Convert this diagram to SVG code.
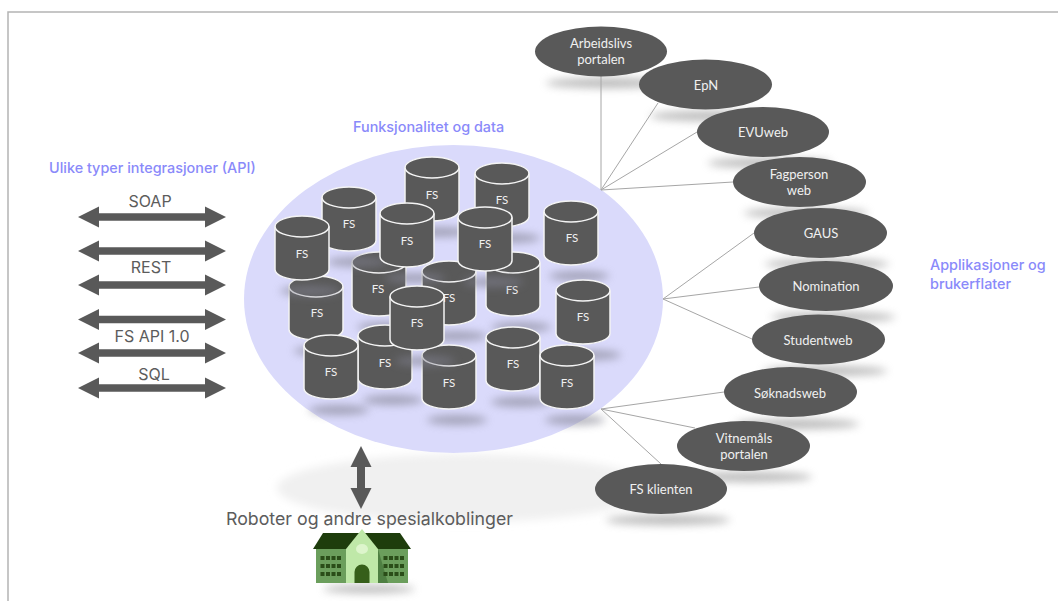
<svg xmlns="http://www.w3.org/2000/svg" xmlns:xlink="http://www.w3.org/1999/xlink" width="1058" height="601" viewBox="0 0 1058 601">
<style>
.body{fill:#595959;stroke:#f4f4f4;stroke-width:1.5}
.lid{fill:none;stroke:#f4f4f4;stroke-width:1.5}
.fs{font:11.5px Lato,"Open Sans",sans-serif;fill:#f0f0f0;text-anchor:middle}
.app{fill:#595959}
.lab{font:13px Lato,"Open Sans",sans-serif;fill:#f0f0f0;text-anchor:middle}
.sh{fill:#8f8f8f;opacity:.62;filter:url(#b)}
.cs{fill:#80808f;opacity:.62;filter:url(#b)}
.api{font:16px Inter,"Liberation Sans",sans-serif;fill:#5c5c5c;text-anchor:middle}
.pur{font:500 14.400px Inter,"Liberation Sans",sans-serif;fill:#8a8afa}
.ln{stroke:#a6a6a6;stroke-width:1;fill:none}
.w{fill:#2a4d18}
</style>
<defs>
<filter id="b" x="-30%" y="-200%" width="160%" height="500%"><feGaussianBlur stdDeviation="4"/></filter>
<filter id="b2" x="-20%" y="-30%" width="140%" height="160%"><feGaussianBlur stdDeviation="4"/></filter>
<path id="h" fill="#595959" d="M0,0 L21,-10.500 V-3.800 H127 V-10.500 L148,0 L127,10.500 V3.800 H21 V10.500 Z"/>
<g id="cyl">
<ellipse class="cs" cx="35" cy="75" rx="30" ry="5"/>
<path class="body" d="M0,10.500 V53.500 A27,10.500 0 0 0 54,53.500 V10.500 A27,10.500 0 0 0 0,10.500 Z"/>
<path class="lid" d="M0,10.500 A27,10.500 0 0 0 54,10.500"/>
</g>
</defs>
<rect width="1058" height="601" fill="#fff"/>
<path d="M8,601 V12 H1058" fill="none" stroke="#b4b4b4" stroke-width="1.5"/>
<ellipse cx="465" cy="488" rx="188" ry="34" fill="#f0f0f0" filter="url(#b2)"/>
<ellipse id="core" cx="453.500" cy="299" rx="209.500" ry="154" fill="#dadafb"/>
<g id="cylinders">
<g id="fs1" transform="translate(405,157)"><use href="#cyl"/><text class="fs" x="27" y="42">FS</text></g>
<g id="fs2" transform="translate(475,163)"><use href="#cyl"/><text class="fs" x="27" y="41">FS</text></g>
<g id="fs6" transform="translate(544,201)"><use href="#cyl"/><text class="fs" x="28" y="41">FS</text></g>
<g id="fs8" transform="translate(352,252)"><use href="#cyl"/><text class="fs" x="26" y="41">FS</text></g>
<g id="fs9" transform="translate(422,261)"><use href="#cyl"/><text class="fs" x="27" y="41">FS</text></g>
<g id="fs10" transform="translate(486,252)"><use href="#cyl"/><text class="fs" x="26" y="42">FS</text></g>
<g id="fs12" transform="translate(556,280)"><use href="#cyl"/><text class="fs" x="27" y="41">FS</text></g>
<g id="fs11" transform="translate(289,276)"><use href="#cyl"/><text class="fs" x="28" y="41">FS</text></g>
<g id="fs3" transform="translate(322,187)"><use href="#cyl"/><text class="fs" x="27" y="41">FS</text></g>
<g id="fs7" transform="translate(275,216)"><use href="#cyl"/><text class="fs" x="27" y="42">FS</text></g>
<g id="fs4" transform="translate(380,203)"><use href="#cyl"/><text class="fs" x="27" y="42">FS</text></g>
<g id="fs5" transform="translate(458,207)"><use href="#cyl"/><text class="fs" x="27" y="41">FS</text></g>
<g id="fs17" transform="translate(486,327)"><use href="#cyl"/><text class="fs" x="27" y="41">FS</text></g>
<g id="fs14" transform="translate(358,325)"><use href="#cyl"/><text class="fs" x="27" y="42">FS</text></g>
<g id="fs16" transform="translate(422,345)"><use href="#cyl"/><text class="fs" x="27" y="42">FS</text></g>
<g id="fs18" transform="translate(540,345)"><use href="#cyl"/><text class="fs" x="27" y="42">FS</text></g>
<g id="fs15" transform="translate(304,335)"><use href="#cyl"/><text class="fs" x="27" y="41">FS</text></g>
<g id="fs13" transform="translate(390,286)"><use href="#cyl"/><text class="fs" x="27" y="41">FS</text></g>
</g>
<g id="app-shadows">
<ellipse class="sh" cx="608" cy="83" rx="62" ry="5"/>
<ellipse class="sh" cx="712" cy="116" rx="62" ry="5"/>
<ellipse class="sh" cx="770" cy="163" rx="62" ry="5"/>
<ellipse class="sh" cx="806" cy="213" rx="62" ry="5"/>
<ellipse class="sh" cx="827" cy="264" rx="62" ry="5"/>
<ellipse class="sh" cx="833" cy="317" rx="62" ry="5"/>
<ellipse class="sh" cx="825" cy="371" rx="62" ry="5"/>
<ellipse class="sh" cx="797" cy="424" rx="62" ry="5"/>
<ellipse class="sh" cx="750" cy="477" rx="62" ry="5"/>
<ellipse class="sh" cx="668" cy="520" rx="62" ry="5"/>
</g>
<g id="connectors">
<path class="ln" d="M601,190 V76 M601,190 L658,103 M601,190 L697,132 M601,190 L733,182"/>
<path class="ln" d="M663,299 L754,233 M663,299 L759,287 M663,299 L752,339"/>
<path class="ln" d="M601,409 L724,392 M601,409 L695,428 M601,409 L661,464"/>
<use href="#h" x="78" y="217"/>
<use href="#h" x="78" y="251"/>
<use href="#h" x="78" y="285"/>
<use href="#h" x="78" y="319.500"/>
<use href="#h" x="78" y="353"/>
<use href="#h" x="78" y="388"/>
<path fill="#595959" d="M361,446 L371.500,467 H365 V488 H371.500 L361,509 L350.500,488 H357 V467 H350.500 Z"/>
</g>
<g id="app-arbeidslivs"><ellipse class="app" cx="601" cy="51.500" rx="66" ry="25"/><text class="lab"><tspan x="601" y="48">Arbeidslivs</tspan><tspan x="601" y="64">portalen</tspan></text></g>
<g id="app-epn"><ellipse class="app" cx="705.500" cy="84.500" rx="66.500" ry="25"/><text class="lab" x="706" y="90">EpN</text></g>
<g id="app-evuweb"><ellipse class="app" cx="763" cy="132" rx="66" ry="25"/><text class="lab" x="763" y="137">EVUweb</text></g>
<g id="app-fagperson"><ellipse class="app" cx="799.500" cy="182" rx="66.500" ry="25"/><text class="lab"><tspan x="799" y="179">Fagperson</tspan><tspan x="799" y="195">web</tspan></text></g>
<g id="app-gaus"><ellipse class="app" cx="820.500" cy="233" rx="66.500" ry="25"/><text class="lab" x="821" y="238">GAUS</text></g>
<g id="app-nomination"><ellipse class="app" cx="826" cy="286" rx="67" ry="25"/><text class="lab" x="826" y="291">Nomination</text></g>
<g id="app-studentweb"><ellipse class="app" cx="818.500" cy="339.500" rx="66.500" ry="25"/><text class="lab" x="818" y="345">Studentweb</text></g>
<g id="app-soknadsweb"><ellipse class="app" cx="790.500" cy="392" rx="66.500" ry="25"/><text class="lab" x="790" y="398">Søknadsweb</text></g>
<g id="app-vitnemals"><ellipse class="app" cx="743.500" cy="446" rx="66.500" ry="25"/><text class="lab"><tspan x="744" y="443">Vitnemåls</tspan><tspan x="744" y="459">portalen</tspan></text></g>
<g id="app-fsklienten"><ellipse class="app" cx="661" cy="489" rx="66" ry="25"/><text class="lab" x="661" y="494">FS klienten</text></g>
<g id="labels">
<text class="pur" x="49" y="173">Ulike typer integrasjoner (API)</text>
<text class="pur" x="353" y="132">Funksjonalitet og data</text>
<text class="pur" x="930" y="270">Applikasjoner og</text>
<text class="pur" x="930" y="289">brukerflater</text>
<text class="api" x="150" y="207">SOAP</text>
<text class="api" x="151" y="273">REST</text>
<text class="api" x="152" y="342">FS API 1.0</text>
<text class="api" x="154" y="380">SQL</text>
<text x="369.500" y="525" style="font:17.750px Inter,'Liberation Sans',sans-serif;fill:#5c5c5c;text-anchor:middle">Roboter og andre spesialkoblinger</text>
</g>
<g id="building">
<ellipse class="sh" cx="369" cy="589" rx="46" ry="4"/>
<rect x="316" y="549" width="92" height="34" fill="#6b9e5c"/>
<path d="M378,549 L388,583 H378 Z" fill="#4e7f42"/>
<path d="M313,549 L323,533 H400 L411,549 Z" fill="#1e3d0c"/>
<g class="w">
<path d="M320.500,556h4v4h-4zM326,556h4v4h-4zM331.500,556h4v4h-4zM337,556h4v4h-4zM320.500,564h4v4h-4zM326,564h4v4h-4zM331.500,564h4v4h-4zM337,564h4v4h-4zM320.500,572h4v4h-4zM326,572h4v4h-4zM331.500,572h4v4h-4zM337,572h4v4h-4z"/>
<path d="M383.500,556h4v4h-4zM389,556h4v4h-4zM394.500,556h4v4h-4zM400,556h4v4h-4zM383.500,564h4v4h-4zM389,564h4v4h-4zM394.500,564h4v4h-4zM400,564h4v4h-4zM383.500,572h4v4h-4zM389,572h4v4h-4zM394.500,572h4v4h-4zM400,572h4v4h-4z"/>
</g>
<path d="M346,549 L362,529 L378,549 V583 H346 Z" fill="#bfe8a8"/>
<ellipse cx="362" cy="549" rx="6" ry="5" fill="#ddf5cc"/>
<path d="M354.500,583 V572 A7.500,7.500 0 0 1 369.500,572 V583 Z" fill="#365f1a"/>
</g>
</svg>
